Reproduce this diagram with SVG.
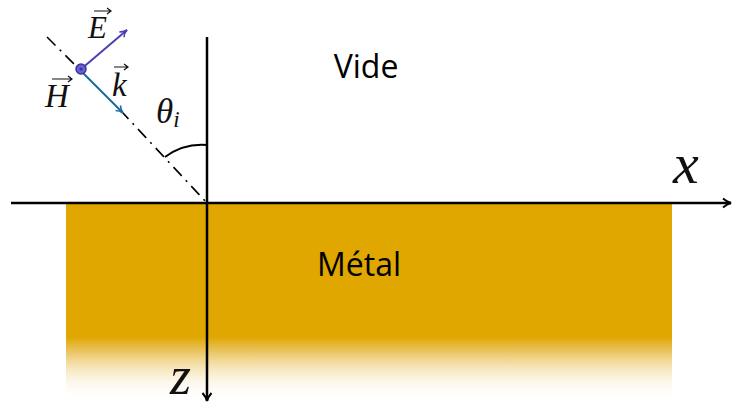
<svg xmlns="http://www.w3.org/2000/svg" width="734" height="406" viewBox="0 0 734 406">
<defs>
<linearGradient id="metalGrad" x1="0" y1="204" x2="0" y2="400" gradientUnits="userSpaceOnUse">
<stop offset="0" stop-color="#DFA700"/>
<stop offset="0.68" stop-color="#DFA700"/>
<stop offset="0.75" stop-color="#E6B840" stop-opacity="0.85"/>
<stop offset="1" stop-color="#FFFFFF" stop-opacity="0"/>
</linearGradient>
<marker id="chev" viewBox="0 0 12 12" refX="10" refY="6" markerWidth="12" markerHeight="12" markerUnits="userSpaceOnUse" orient="auto">
<path d="M2,1.5 Q6,5 10,6 Q6,7 2,10.5" fill="none" stroke="#000" stroke-width="2"/>
</marker>
<marker id="arrE" viewBox="0 0 10 10" refX="9" refY="5" markerWidth="10" markerHeight="10" markerUnits="userSpaceOnUse" orient="auto">
<path d="M2,1.5 Q5,4.5 9,5 Q5,5.5 2,8.5" fill="none" stroke="#4A3FB5" stroke-width="1.6"/>
</marker>
<marker id="arrK" viewBox="0 0 10 10" refX="9" refY="5" markerWidth="10" markerHeight="10" markerUnits="userSpaceOnUse" orient="auto">
<path d="M2,1.5 Q5,4.5 9,5 Q5,5.5 2,8.5" fill="none" stroke="#1A6A9C" stroke-width="1.6"/>
</marker>
</defs>
<style>
.math{font-family:"Liberation Serif","DejaVu Serif",serif;font-style:italic;fill:#111;}
.lbl{font-family:"Open Sans","Liberation Sans",sans-serif;font-size:32px;fill:#000;}
.axis{stroke:#000;stroke-width:2.5;fill:none;}
.vec{fill:none;stroke:#111;stroke-width:1.2;}
</style>
<g id="metal">
<rect x="66" y="204" width="606" height="196" fill="url(#metalGrad)"/>
<text class="lbl" x="359" y="276" text-anchor="middle">Métal</text>
</g>
<g id="vide">
<text class="lbl" x="366" y="78" text-anchor="middle">Vide</text>
</g>
<g id="connectors">
<line class="axis" x1="11" y1="203" x2="731" y2="203" marker-end="url(#chev)"/>
<line class="axis" x1="207" y1="37" x2="207" y2="401" marker-end="url(#chev)"/>
<line x1="47" y1="37" x2="80" y2="70" stroke="#000" stroke-width="1.6" stroke-dasharray="12,6,2,6"/>
<line x1="123" y1="113" x2="207" y2="203" stroke="#000" stroke-width="1.6" stroke-dasharray="12,6,2,6" stroke-dashoffset="4"/>
<path d="M165,157 A62,62 0 0 1 207,145" fill="none" stroke="#000" stroke-width="2"/>
<line x1="80" y1="70" x2="127" y2="30" stroke="#4A3FB5" stroke-width="2" marker-end="url(#arrE)"/>
<line x1="80" y1="70" x2="123" y2="113" stroke="#1A6A9C" stroke-width="2" marker-end="url(#arrK)"/>
</g>
<g id="H">
<circle cx="81" cy="69" r="5" fill="#6A60D0" stroke="#3A30A0" stroke-width="1.5"/>
<circle cx="81" cy="69" r="1.6" fill="#3A30A0"/>
<text class="math" x="45" y="107" font-size="33">H</text>
<path class="vec" d="M52,79 H71 M68,76 L72,79 L68,82"/>
</g>
<g id="E">
<text class="math" x="88" y="38" font-size="31">E</text>
<path class="vec" d="M94,11 H110 M107,8 L111,11 L107,14"/>
</g>
<g id="k">
<text class="math" x="112" y="96" font-size="33">k</text>
<path class="vec" d="M114,67 H127 M124,64 L128,67 L124,70"/>
</g>
<g id="theta">
<text class="math" x="156" y="123" font-size="35">θ<tspan font-size="23" dy="4">i</tspan></text>
</g>
<g id="xlabel"><text class="math" x="673" y="183" font-size="58">x</text></g>
<g id="zlabel"><text class="math" x="170" y="394" font-size="54">z</text></g>
</svg>
